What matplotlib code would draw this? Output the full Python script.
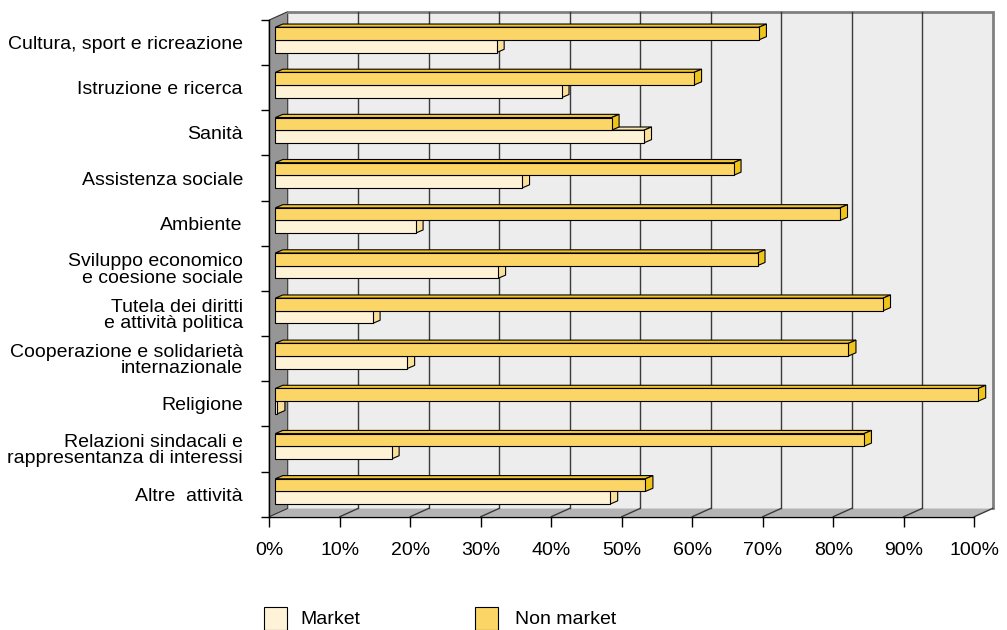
import matplotlib
matplotlib.use("Agg")
import matplotlib.pyplot as plt
import matplotlib.transforms as mtransforms
from matplotlib.patches import Polygon, Rectangle

plt.rcParams['font.family'] = ['Liberation Sans', 'DejaVu Sans']

categories = [
    "Cultura, sport e ricreazione",
    "Istruzione e ricerca",
    "Sanità",
    "Assistenza sociale",
    "Ambiente",
    "Sviluppo economico\ne coesione sociale",
    "Tutela dei diritti\ne attività politica",
    "Cooperazione e solidarietà\ninternazionale",
    "Religione",
    "Relazioni sindacali e\nrappresentanza di interessi",
    "Altre  attività",
]
market = [31.4, 40.6, 52.3, 35.0, 19.9, 31.6, 13.8, 18.7, 0.3, 16.5, 47.5]
non_market = [68.6, 59.4, 47.7, 65.0, 80.1, 68.4, 86.2, 81.3, 99.7, 83.5, 52.5]
x_ticks = list(range(0, 101, 10))

# colours
nm_front, nm_top, nm_side = '#FBD667', '#F3C52A', '#F0C419'
mk_front, mk_top, mk_side = '#FEF2D7', '#FBE6AE', '#FBE09A'
FS = 14

W, H = 1007, 630
fig = plt.figure(figsize=(W / 100, H / 100), dpi=100)
ax = fig.add_axes([269.3 / W, 113.3 / H, 705 / W, 496.7 / H])
ax.set_xlim(0, 100)
ax.set_ylim(len(categories), 0)
ax.patch.set_visible(False)

# depth offsets in pixels (display coords, y up)
wall_dx, wall_dy = 18.4, 8.3
bar_dx, bar_dy = 6.0, 2.7
cap_dx, cap_dy = 7.5, 3.2


def disp(x, y, dx=0.0, dy=0.0):
    px, py = ax.transData.transform((x, y))
    return (px + dx, py + dy)


def poly(points, **kw):
    p = Polygon(points, closed=True, transform=mtransforms.IdentityTransform(),
                clip_on=False, **kw)
    ax.add_artist(p)
    return p


n = len(categories)
# back wall
poly([disp(0, n, wall_dx, wall_dy), disp(100, n, wall_dx, wall_dy),
      disp(100, 0, wall_dx, wall_dy), disp(0, 0, wall_dx, wall_dy)],
     facecolor='#EDEDED', edgecolor='none', zorder=0)
# wall border (top and right)
tr = ax.transData + mtransforms.Affine2D().translate(wall_dx, wall_dy)
ax.plot([0, 100, 100], [0, 0, n], color='#808080', lw=2, transform=tr, zorder=1,
        solid_joinstyle='miter', clip_on=False)
# floor
poly([disp(0, n), disp(100, n), disp(100, n, wall_dx, wall_dy), disp(0, n, wall_dx, wall_dy)],
     facecolor='#B4B4B4', edgecolor='none', zorder=0.5)
# left side wall
poly([disp(0, n), disp(0, n, wall_dx, wall_dy), disp(0, 0, wall_dx, wall_dy), disp(0, 0)],
     facecolor='#969696', edgecolor='#333333', lw=0.8, zorder=0.6)

# gridlines on back wall and floor
for v in x_ticks[1:-1]:
    ax.plot([v, v], [0, n], color='#3A3A3A', lw=1, transform=tr, zorder=1, clip_on=False)
for v in x_ticks[1:]:
    a = disp(v, n)
    b = disp(v, n, wall_dx, wall_dy)
    ax.plot([a[0], b[0]], [a[1], b[1]], color='#3A3A3A', lw=1,
            transform=mtransforms.IdentityTransform(), zorder=1, clip_on=False)

bar_h = 0.28
bar_tr = ax.transData + mtransforms.Affine2D().translate(bar_dx, bar_dy)


def draw_bars(values, offset, front, top, side, label, z):
    ys = [i + 0.5 + offset for i in range(n)]
    bars = ax.barh(ys, values, height=bar_h, color=front, edgecolor='black', lw=0.8,
                   transform=bar_tr, zorder=z + 0.1, label=label)
    for b in bars:
        b.set_clip_on(False)
    for y, v in zip(ys, values):
        y0, y1 = y - bar_h / 2, y + bar_h / 2  # y0 is the upper edge (inverted axis)
        # top face
        poly([disp(0, y0, bar_dx, bar_dy), disp(v, y0, bar_dx, bar_dy),
              disp(v, y0, bar_dx + cap_dx, bar_dy + cap_dy),
              disp(0, y0, bar_dx + cap_dx, bar_dy + cap_dy)],
             facecolor=top, edgecolor='black', lw=0.8, zorder=z)
        # end cap
        poly([disp(v, y0, bar_dx, bar_dy), disp(v, y1, bar_dx, bar_dy),
              disp(v, y1, bar_dx + cap_dx, bar_dy + cap_dy),
              disp(v, y0, bar_dx + cap_dx, bar_dy + cap_dy)],
             facecolor=side, edgecolor='black', lw=0.8, zorder=z)
    return bars


draw_bars(market, bar_h / 2, mk_front, mk_top, mk_side, 'Market', 3)
draw_bars(non_market, -bar_h / 2, nm_front, nm_top, nm_side, 'Non market', 4)

# axes
for s in ['top', 'right']:
    ax.spines[s].set_visible(False)
ax.spines['left'].set_linewidth(1)
ax.spines['bottom'].set_linewidth(1)
ax.spines['left'].set_zorder(5)
ax.spines['bottom'].set_zorder(5)
ax.set_xticks(x_ticks)
ax.set_xticklabels([f"{v}%" for v in x_ticks])
ax.tick_params(axis='x', direction='out', length=7, width=1, pad=11, labelsize=FS)
ax.set_yticks(range(n + 1))
ax.set_yticklabels([])
ax.tick_params(axis='y', which='major', direction='out', length=5.5, width=1)
ax.set_yticks([i + 0.5 for i in range(n)], minor=True)
ax.set_yticklabels(categories, minor=True, fontsize=FS, linespacing=0.95)
ax.tick_params(axis='y', which='minor', length=0, pad=19)

# legend
fig.add_artist(Rectangle((264 / W, 0), 22.5 / W, 23 / H, facecolor=mk_front,
                         edgecolor='black', lw=0.8, transform=fig.transFigure))
fig.text(300 / W, 10 / H, 'Market', fontsize=FS, va='center')
fig.add_artist(Rectangle((475 / W, 0), 22.5 / W, 23 / H, facecolor=nm_front,
                         edgecolor='black', lw=0.8, transform=fig.transFigure))
fig.text(515 / W, 10 / H, 'Non market', fontsize=FS, va='center')

fig.savefig('out.png', dpi=100)
